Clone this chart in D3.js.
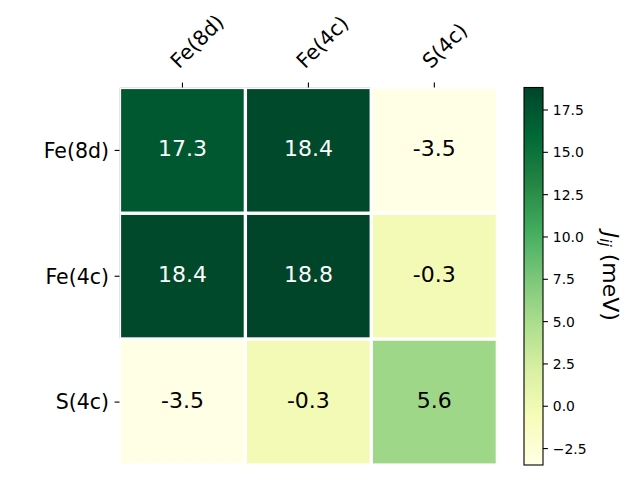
<!DOCTYPE html>
<html>
<head>
<meta charset="utf-8">
<script src="https://cdn.jsdelivr.net/npm/d3@7"></script>
<style>
  html, body { margin: 0; padding: 0; background: #fff; }
  svg { display: block; font-family: "DejaVu Sans", sans-serif; }
</style>
</head>
<body>
<svg id="chart" width="640" height="480"></svg>
<script>
// ---- data ----
const rowLabels = ["Fe(8d)", "Fe(4c)", "S(4c)"];
const colLabels = ["Fe(8d)", "Fe(4c)", "S(4c)"];
const rowFe8d = [17.3, 18.4, -3.5];
const rowFe4c = [18.4, 18.8, -0.3];
const rowS4c  = [-3.5, -0.3, 5.6];
const values = [rowFe8d, rowFe4c, rowS4c];
const cbarTicks = [-2.5, 0.0, 2.5, 5.0, 7.5, 10.0, 12.5, 15.0, 17.5];
const ylgn = ["#ffffe5", "#f7fcb9", "#d9f0a3", "#addd8e", "#78c679", "#41ab5d", "#238443", "#006837", "#004529"];

// ---- layout ----
const svg = d3.select("#chart");
const ax = { left: 119.5, top: 87.5, right: 497.3, bottom: 465 };
const cb = { left: 524, right: 543, top: 87.5, bottom: 465 };

const cells = [];
values.forEach((row, i) => row.forEach((v, j) => cells.push({ r: rowLabels[i], c: colLabels[j], ri: i, ci: j, v })));

const x = d3.scaleBand().domain(colLabels.map((d, i) => i)).range([ax.left, ax.right]);
const y = d3.scaleBand().domain(rowLabels.map((d, i) => i)).range([ax.top, ax.bottom]);

const all = values.flat();
const vmin = d3.min(all), vmax = d3.max(all);
const color = d3.scaleLinear()
  .domain(ylgn.map((c, i) => vmin + (vmax - vmin) * i / (ylgn.length - 1)))
  .range(ylgn)
  .interpolate(d3.interpolateRgb)
  .clamp(true);

function lum(c) {
  const rgb = d3.rgb(c);
  const f = v => { v /= 255; return v <= 0.03928 ? v / 12.92 : Math.pow((v + 0.055) / 1.055, 2.4); };
  return 0.2126 * f(rgb.r) + 0.7152 * f(rgb.g) + 0.0722 * f(rgb.b);
}

// clip for heatmap axes
svg.append("clipPath").attr("id", "axclip").append("rect")
  .attr("x", ax.left).attr("y", ax.top)
  .attr("width", ax.right - ax.left).attr("height", ax.bottom - ax.top);

const g = svg.append("g").attr("clip-path", "url(#axclip)");
g.selectAll("rect.cell").data(cells).enter().append("rect")
  .attr("class", "cell")
  .attr("x", d => x(d.ci)).attr("y", d => y(d.ri))
  .attr("width", x.bandwidth()).attr("height", y.bandwidth())
  .attr("fill", d => color(d.v))
  .attr("stroke", "#fff").attr("stroke-width", 3.2);

// annotations
svg.selectAll("text.ann").data(cells).enter().append("text")
  .attr("class", "ann")
  .attr("x", d => x(d.ci) + x.bandwidth() / 2)
  .attr("y", d => y(d.ri) + y.bandwidth() / 2)
  .attr("dy", "0.25em")
  .attr("text-anchor", "middle")
  .attr("font-size", "22px")
  .attr("fill", d => lum(color(d.v)) > 0.408 ? "#000" : "#fff")
  .text(d => d.v.toFixed(1));

// x ticks on top
const tickFont = 20.5;
const xt = svg.append("g");
colLabels.forEach((lab, j) => {
  const cx = x(j) + x.bandwidth() / 2;
  xt.append("line").attr("x1", cx).attr("x2", cx).attr("y1", ax.top).attr("y2", ax.top - 4.9)
    .attr("stroke", "#000").attr("stroke-width", 1.1);
  xt.append("text")
    .attr("transform", `translate(${cx},${ax.top - 14.5}) rotate(-45)`)
    .attr("x", 0).attr("y", -0.236 * tickFont)
    .attr("font-size", tickFont + "px").attr("fill", "#000")
    .text(lab);
});

// y ticks on left
const yt = svg.append("g");
rowLabels.forEach((lab, i) => {
  const cy = y(i) + y.bandwidth() / 2;
  yt.append("line").attr("x1", ax.left - 4.9).attr("x2", ax.left).attr("y1", cy).attr("y2", cy)
    .attr("stroke", "#000").attr("stroke-width", 1.1);
  yt.append("text")
    .attr("x", ax.left - 10.5).attr("y", cy).attr("dy", "0.36em")
    .attr("text-anchor", "end")
    .attr("font-size", tickFont + "px").attr("fill", "#000")
    .text(lab);
});

// colorbar
const cbScale = d3.scaleLinear().domain([vmin, vmax]).range([cb.bottom, cb.top]);
const defs = svg.append("defs");
const grad = defs.append("linearGradient").attr("id", "cbgrad")
  .attr("x1", 0).attr("y1", 1).attr("x2", 0).attr("y2", 0);
ylgn.forEach((c, i) => grad.append("stop").attr("offset", i / (ylgn.length - 1)).attr("stop-color", c));
svg.append("rect").attr("x", cb.left).attr("y", cb.top)
  .attr("width", cb.right - cb.left).attr("height", cb.bottom - cb.top)
  .attr("fill", "url(#cbgrad)").attr("stroke", "#000").attr("stroke-width", 1.1);

const cbAxis = d3.axisRight(cbScale).tickValues(cbarTicks).tickFormat(d3.format(".1f"))
  .tickSize(4.9).tickPadding(4.9);
const cbg = svg.append("g").attr("transform", `translate(${cb.right},0)`).call(cbAxis);
cbg.select(".domain").remove();
cbg.selectAll(".tick line").attr("stroke", "#000").attr("stroke-width", 1.1);
cbg.selectAll(".tick text").attr("font-size", "13.9px").attr("font-family", "DejaVu Sans, sans-serif")
  .attr("fill", "#000").attr("dy", "0.36em");

// colorbar label
const lbl = svg.append("text")
  .attr("transform", `translate(603,${(cb.top + cb.bottom) / 2}) rotate(90)`)
  .attr("text-anchor", "middle")
  .attr("font-size", "22px").attr("fill", "#000");
lbl.append("tspan").attr("font-style", "italic").text("J");
lbl.append("tspan").attr("font-style", "italic").attr("font-size", "15.4px").attr("dy", "3.5").text("ij");
lbl.append("tspan").attr("dy", "-3.5").text(" (meV)");
</script>
</body>
</html>
